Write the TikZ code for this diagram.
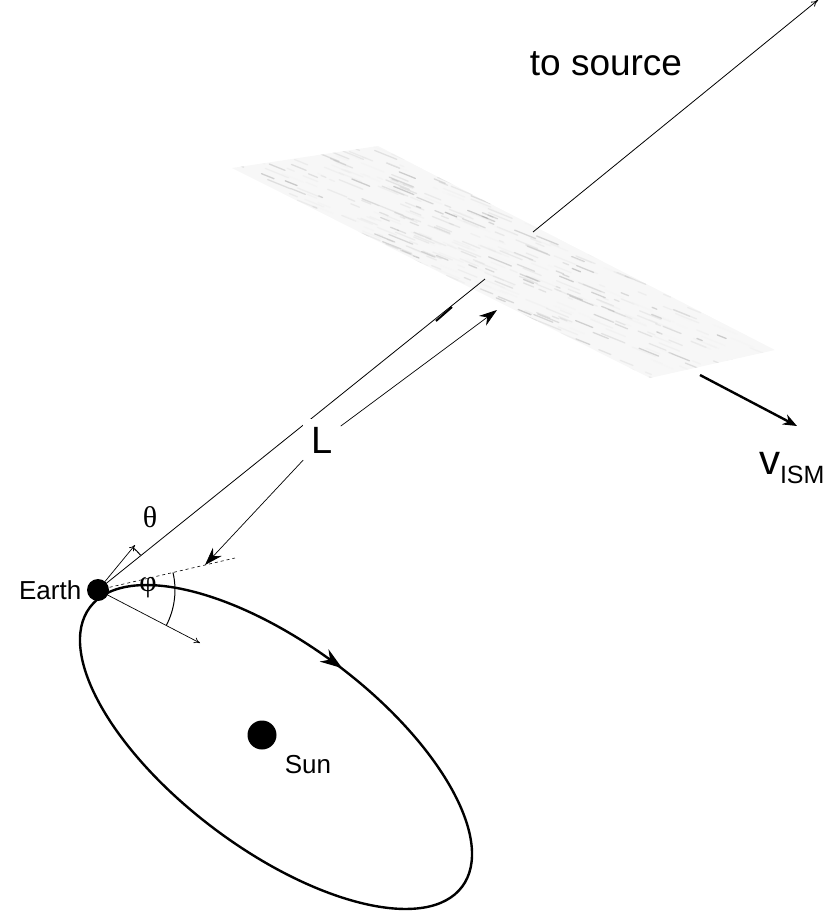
\documentclass[tikz,border=0pt]{standalone}
\usepackage{fontspec}
\setmainfont{Liberation Sans}
\newfontfamily\greekfont{Liberation Serif}
\usetikzlibrary{arrows.meta}
\usetikzlibrary{decorations.markings}
\usetikzlibrary{calc}

\begin{document}
\begin{tikzpicture}[x=1pt,y=1pt,
    thinarrow/.style={-{To[length=6pt,width=6pt]}, line width=0.7pt},
    stealthtip/.style={line width=0.7pt},
    planet/.style={circle, fill=black, inner sep=0pt}]
  \useasboundingbox (0,0) rectangle (830,-922);

  % Screen
  \coordinate (sl) at (232,-168);
  \coordinate (st) at (378,-146);
  \coordinate (sr) at (775,-350);
  \coordinate (sb) at (650,-378);
  \begin{scope}
    \clip (sl) -- (st) -- (sr) -- (sb) -- cycle;
    \fill[black!3] (sl) -- (st) -- (sr) -- (sb) -- cycle;
    \pgfmathsetseed{7}
    \foreach \i in {1,...,1400}{
      \pgfmathsetmacro\px{rnd*560+225}
      \pgfmathsetmacro\py{-(rnd*240+140)}
      \pgfmathsetmacro\len{rnd*22+4}
      \pgfmathsetmacro\shade{rnd*rnd*60+4}
      \draw[black!\shade, line width=1.3pt, line cap=round, opacity=0.35]
        (\px,\py) -- ++(-22:\len);
    }
  \end{scope}

  % Earth and Sun
  \node[planet, minimum size=22pt] (earth) at (98,-590) {};
  \node[planet, minimum size=29pt] (sun) at (262,-735) {};
  \node[left=2pt] (earthlabel) at (earth.west) {\fontsize{26}{30}\selectfont Earth};
  \node (sunlabel) at (308,-765) {\fontsize{26}{30}\selectfont Sun};

  % Orbit
  \draw[line width=2.4pt, rotate around={-36.9:(276,-747)},
    decoration={markings, mark=at position 0.265 with {\arrow{Stealth[reversed,length=22pt,width=15pt]}}},
    postaction={decorate}]
    (276,-747) ellipse[x radius=232.7pt, y radius=102.4pt];

  % Line of sight
  \coordinate (src) at (818,0);
  \coordinate (cutlow) at (485,-279);
  \coordinate (cuthigh) at (533,-232);
  \draw[line width=0.8pt] (earth.center) -- (cutlow);
  \draw[line width=0.8pt, -{To[length=7pt,width=6pt]}] (cuthigh) -- (src);
  \draw[line width=2pt] (436,-321) -- (452,-307);
  \node (tosource) at (606,-64) {\fontsize{37}{42}\selectfont to source};

  % Distance L
  \coordinate (la) at (205,-565);
  \coordinate (lb) at (497,-310);
  \node[fill=white, inner sep=8pt] (lbl) at (322,-440) {\fontsize{38}{44}\selectfont L};
  \draw[stealthtip, -{Stealth[length=18pt,width=12pt]}] (lbl) -- (lb);
  \draw[stealthtip, -{Stealth[length=18pt,width=12pt]}] (lbl) -- (la);

  % Tangent and vectors
  \coordinate (tang) at (235,-558);
  \draw[dashed, line width=0.6pt] (earth.center) -- (tang);
  \coordinate (up) at (135,-545);
  \coordinate (down) at (200,-643);
  \draw[thinarrow] (earth.center) -- (up);
  \draw[thinarrow] (earth.center) -- (down);

  % Angles
  \draw[line width=1pt] ($(earth.center)!55pt!(up)$) arc[start angle=50.5, end angle=39.3, radius=55pt];
  \draw[line width=1pt] ($(earth.center)!77pt!(tang)$) arc[start angle=13.1, end angle=-27.5, radius=77pt];
  \node (theta) at (150,-517) {\greekfont\fontsize{30}{34}\selectfont θ};
  \node (phi) at (148,-588) {\greekfont\fontsize{30}{34}\selectfont φ};

  % ISM velocity
  \coordinate (va) at (700,-375);
  \coordinate (vb) at (797,-426);
  \draw[line width=2.4pt, -{Stealth[length=14pt,width=11pt]}] (va) -- (vb);
  \node (vism) at (792,-468) {\fontsize{42}{46}\selectfont v\textsubscript{\fontsize{25}{28}\selectfont ISM}};
\end{tikzpicture}
\end{document}
